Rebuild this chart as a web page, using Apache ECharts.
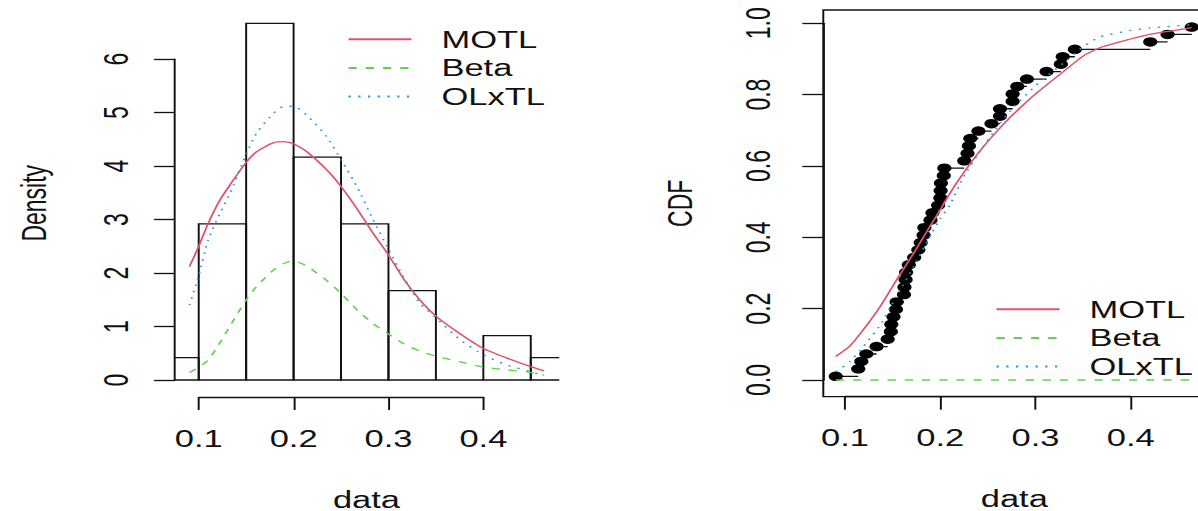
<!DOCTYPE html>
<html><head><meta charset="utf-8">
<script src="https://cdn.jsdelivr.net/npm/echarts@6/dist/echarts.min.js"></script>
<style>
html,body{margin:0;padding:0;background:#fff;overflow:hidden;width:1198px;height:511px}
#chart{width:799px;height:511px;transform:scaleX(1.499374);transform-origin:0 0;}
</style></head><body><div id="chart"></div>
<script>
// ---------------- data ----------------
const seriesNames = ['MOTL', 'Beta', 'OLxTL'];
const histBreaks = [0.05, 0.10, 0.15, 0.20, 0.25, 0.30, 0.35, 0.40, 0.45, 0.50];
const histDensity = [0.42, 2.92, 6.67, 4.17, 2.92, 1.67, 0, 0.83, 0.42];

const pdfX     = [0.0903,0.100,0.110,0.1225,0.133,0.149,0.161,0.179,0.190,0.200,0.214,0.235,0.250,0.267,0.284,0.300,0.316,0.333,0.351,0.375,0.400,0.425,0.450,0.4641];
const pdfMOTL  = [2.12,2.50,2.93,3.37,3.65,4.05,4.27,4.44,4.46,4.42,4.27,3.93,3.62,3.20,2.74,2.34,1.89,1.50,1.18,0.87,0.59,0.41,0.25,0.17];
const pdfBeta  = [0.14,0.24,0.37,0.70,1.01,1.47,1.75,2.06,2.18,2.23,2.13,1.86,1.62,1.31,1.05,0.86,0.68,0.54,0.44,0.34,0.24,0.19,0.14,0.09];
const pdfOLxTL = [1.40,1.95,2.62,3.12,3.49,4.18,4.62,4.99,5.12,5.12,4.95,4.55,4.12,3.61,2.99,2.45,1.92,1.44,1.15,0.76,0.47,0.28,0.155,0.075];

const cdfX     = [0.0903,0.105,0.119,0.137,0.154,0.172,0.189,0.200,0.210,0.224,0.241,0.259,0.276,0.301,0.329,0.350,0.368,0.400,0.420,0.4641];
const cdfMOTL  = [0.066,0.095,0.140,0.206,0.280,0.355,0.430,0.477,0.523,0.579,0.640,0.696,0.743,0.804,0.864,0.908,0.932,0.956,0.969,0.988];
const cdfBeta  = [0,0,0,0,0,0,0,0,0,0,0,0,0,0,0,0,0,0,0,0];
const cdfOLxTL = [0.023,0.051,0.093,0.154,0.234,0.318,0.402,0.452,0.490,0.567,0.638,0.706,0.762,0.827,0.888,0.934,0.962,0.980,0.987,0.996];

const obsData = [0.0903,0.1139,0.1171,0.1224,0.1331,0.1448,0.1481,0.1486,0.1509,0.1535,0.1542,0.1619,
  0.1624,0.1636,0.1641,0.1670,0.1726,0.1770,0.1795,0.1825,0.1833,0.1897,0.1918,0.1977,
  0.2001,0.2004,0.2007,0.2037,0.2043,0.2252,0.2286,0.2301,0.2316,0.2401,0.2538,0.2627,
  0.2627,0.2760,0.2760,0.2809,0.2910,0.3116,0.3266,0.3286,0.3413,0.4205,0.4387,0.4641];

const xTicks = [0.1, 0.2, 0.3, 0.4];
const densityTicks = [0, 1, 2, 3, 4, 5, 6];
const cdfTicks = [0.0, 0.2, 0.4, 0.6, 0.8, 1.0];

// ---------------- layout ----------------
const K = 1198 / 799;
const LP = {left:175, top:9.5, width:383, height:387.5, xmin:0.075, xmax:0.4787, ymin:-0.318, ymax:6.93};
const RP = {left:823.3, top:10, width:382, height:386.7, xmin:0.0772, xmax:0.4783, ymin:-0.0468, ymax:1.0373};
const FONT = 'Liberation Sans, Arial, Helvetica, sans-serif';
const INK = '#111';
const LW = 1.3;
const colors = {MOTL:'#DF536B', Beta:'#61D04F', OLxTL:'#2297E6'};
const dashes = {MOTL:'solid', Beta:[5.5,6], OLxTL:[1.5,5]};

function mainGrid(P, extra){ return Object.assign({left:P.left/K, top:P.top, width:P.width/K, height:P.height, outerBoundsMode:'none', containLabel:false}, extra||{}); }
function yAxisGrid(P, lo, hi){ const h = P.height/(P.ymax-P.ymin); return {left:P.left/K, width:10, top:P.top+(P.ymax-hi)*h, height:(hi-lo)*h, outerBoundsMode:'none', containLabel:false}; }
function xAxisGrid(P, lo, hi){ const w = P.width/(P.xmax-P.xmin); return {left:(P.left+(lo-P.xmin)*w)/K, width:(hi-lo)*w/K, top:P.top, height:P.height, outerBoundsMode:'none', containLabel:false}; }

const hidden = (gi) => ({type:'value', gridIndex:gi, show:false, min:0, max:1});
function mainX(gi, P){ return {type:'value', gridIndex:gi, min:P.xmin, max:P.xmax, name:'data', nameLocation:'middle', nameGap:91,
  nameTextStyle:{fontSize:23, color:INK, fontFamily:FONT}, axisLine:{show:false}, axisTick:{show:false}, axisLabel:{show:false}, splitLine:{show:false}}; }
function mainY(gi, P, name, gap){ return {type:'value', gridIndex:gi, min:P.ymin, max:P.ymax, name:name, nameLocation:'middle', nameGap:gap,
  nameTextStyle:{fontSize:23, color:INK, fontFamily:FONT}, axisLine:{show:false}, axisTick:{show:false}, axisLabel:{show:false}, splitLine:{show:false}}; }
function tickX(gi, ticks){ return {type:'value', gridIndex:gi, position:'bottom', min:ticks[0], max:ticks[ticks.length-1], interval:ticks[1]-ticks[0],
  axisLine:{show:true, onZero:false, lineStyle:{color:INK, width:LW}}, axisTick:{show:true, length:13, lineStyle:{color:INK, width:LW}},
  axisLabel:{show:true, margin:30, fontSize:23, color:INK, fontFamily:FONT, formatter:v=>v.toFixed(1), showMinLabel:true, showMaxLabel:true},
  splitLine:{show:false}}; }
function tickY(gi, ticks, margin, fmt){ return {type:'value', gridIndex:gi, position:'left', min:ticks[0], max:ticks[ticks.length-1], interval:ticks[1]-ticks[0],
  axisLine:{show:true, onZero:false, lineStyle:{color:INK, width:LW}}, axisTick:{show:true, length:14, lineStyle:{color:INK, width:LW}},
  axisLabel:{show:true, rotate:90, margin:margin, fontSize:23, color:INK, fontFamily:FONT, formatter:fmt, showMinLabel:true, showMaxLabel:true},
  splitLine:{show:false}}; }

// ---------------- series ----------------
const histData = histDensity.map((d,i)=>[histBreaks[i], histBreaks[i+1], d]);
const n = obsData.length;
const ecdfPoints = obsData.map((x,i)=>[x, (i+0.5)/n]);
const ecdfSteps = obsData.slice(0,-1).map((x,i)=>[x, obsData[i+1], (i+0.5)/n]);

function curve(name, xs, ys, xi, yi){
  return {type:'line', name:name, xAxisIndex:xi, yAxisIndex:yi, data:xs.map((x,i)=>[x, ys[i]]),
    symbol:'none', showSymbol:false, smooth:0.2, silent:true, clip:true,
    lineStyle:{color:colors[name], width:1.3, type:dashes[name]}, itemStyle:{color:colors[name]}, z:5};
}

const series = [
  {type:'custom', name:'hist', xAxisIndex:0, yAxisIndex:0, clip:true, silent:true, data:histData,
    encode:{x:[0,1], y:2},
    renderItem:(params, api)=>{
      const p0 = api.coord([api.value(0), 0]);
      const p1 = api.coord([api.value(1), api.value(2)]);
      return {type:'rect', shape:{x:p0[0], y:p1[1], width:p1[0]-p0[0], height:p0[1]-p1[1]},
        style:{fill:'none', stroke:INK, lineWidth:LW}};
    }},
  curve('MOTL', pdfX, pdfMOTL, 0, 0),
  curve('Beta', pdfX, pdfBeta, 0, 0),
  curve('OLxTL', pdfX, pdfOLxTL, 0, 0),
  {type:'custom', name:'ecdf', xAxisIndex:3, yAxisIndex:3, clip:true, silent:true, data:ecdfSteps,
    encode:{x:[0,1], y:2},
    renderItem:(params, api)=>{
      const a = api.coord([api.value(0), api.value(2)]);
      const b = api.coord([api.value(1), api.value(2)]);
      return {type:'line', shape:{x1:a[0], y1:a[1], x2:b[0], y2:b[1]}, style:{stroke:INK, lineWidth:LW}};
    }},
  {type:'scatter', name:'obs', xAxisIndex:3, yAxisIndex:3, data:ecdfPoints, symbol:'circle', symbolSize:9.5,
    itemStyle:{color:'#000', opacity:1}, silent:true, z:3},
  curve('MOTL', cdfX, cdfMOTL, 3, 3),
  curve('Beta', cdfX, cdfBeta, 3, 3),
  curve('OLxTL', cdfX, cdfOLxTL, 3, 3)
];

const legendBase = {orient:'vertical', padding:0, itemGap:0, itemWidth:42, itemHeight:14, selectedMode:false,
  data:seriesNames,
  itemStyle:{color:'rgba(0,0,0,0)', borderColor:'rgba(0,0,0,0)', borderWidth:0, opacity:0},
  textStyle:{fontSize:23, color:INK, fontFamily:FONT, lineHeight:28.6, padding:[0,0,0,15]}};

const option = {
  animation:false,
  backgroundColor:'#fff',
  textStyle:{fontFamily:FONT},
  grid:[
    mainGrid(LP),
    yAxisGrid(LP, densityTicks[0], densityTicks[densityTicks.length-1]),
    xAxisGrid(LP, xTicks[0], xTicks[xTicks.length-1]),
    mainGrid(RP, {show:true, borderColor:INK, borderWidth:LW, backgroundColor:'transparent'}),
    yAxisGrid(RP, cdfTicks[0], cdfTicks[cdfTicks.length-1]),
    xAxisGrid(RP, xTicks[0], xTicks[xTicks.length-1])
  ],
  xAxis:[ mainX(0, LP), hidden(1), tickX(2, xTicks), mainX(3, RP), hidden(4), tickX(5, xTicks) ],
  yAxis:[ mainY(0, LP, 'Density', 83), tickY(1, densityTicks, 28, v=>String(v)), hidden(2),
          mainY(3, RP, 'CDF', 84), tickY(4, cdfTicks, 32, v=>v.toFixed(1)), hidden(5) ],
  legend:[
    Object.assign({}, legendBase, {left:347/K, top:25}),
    Object.assign({}, legendBase, {left:995/K, top:295})
  ],
  series:series
};

const chart = echarts.init(document.getElementById('chart'), null, {renderer:'svg'});
chart.setOption(option);
</script></body></html>
